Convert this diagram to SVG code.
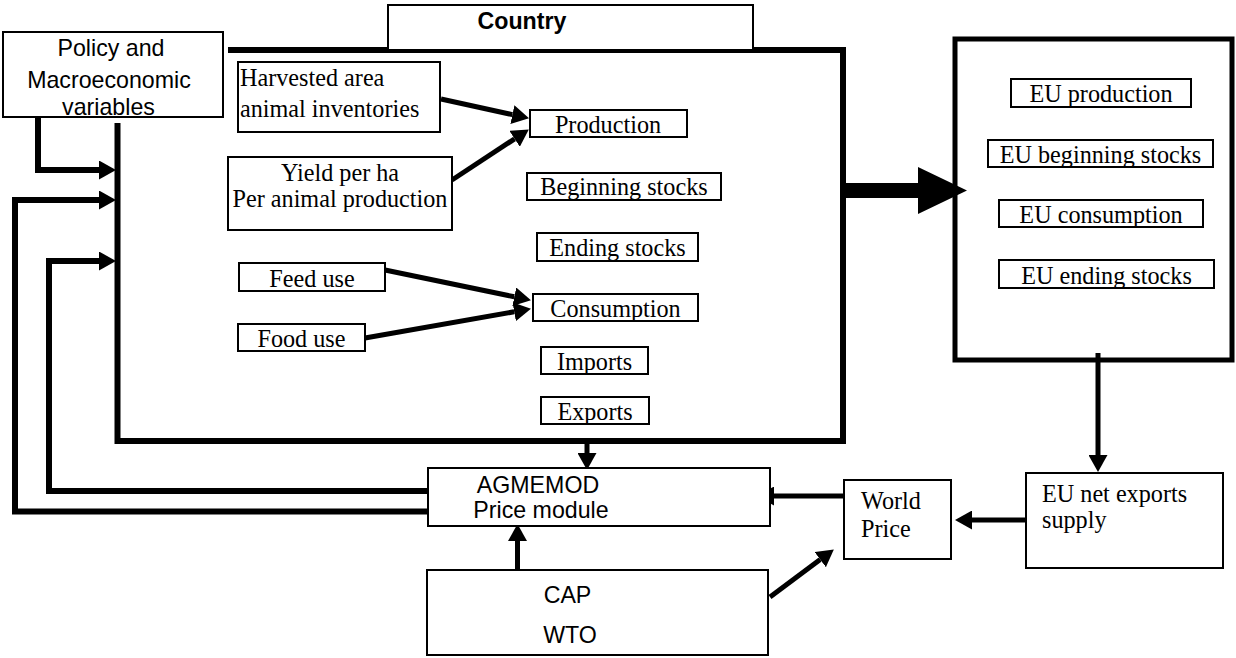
<svg xmlns="http://www.w3.org/2000/svg" width="1236" height="658" viewBox="0 0 1236 658">
  <style>
    .box { fill: #ffffff; stroke: #000000; stroke-width: 2; }
    .serif { font-family: "Liberation Serif", "Times New Roman", serif; font-size: 24.2px; fill: #000000; }
    .sans { font-family: "Liberation Sans", Arial, sans-serif; font-size: 23.2px; fill: #000000; }
    .mid { text-anchor: middle; }
    .heavy { fill: none; stroke: #000000; stroke-width: 6; stroke-linejoin: miter; }
    .link { fill: none; stroke: #000000; stroke-width: 5; }
    .edge { fill: none; stroke: #000000; stroke-width: 2; }
  </style>
  <defs>
    <marker id="head" markerUnits="userSpaceOnUse" markerWidth="17" markerHeight="19" viewBox="0 0 17 19" refX="0" refY="9.5" orient="auto">
      <path d="M0,0 L17,9.5 L0,19 Z" fill="#000000"/>
    </marker>
    <clipPath id="clip-beg"><rect x="527" y="173" width="194" height="27"/></clipPath>
    <clipPath id="clip-eu-beg"><rect x="988" y="140" width="225" height="27"/></clipPath>
    <clipPath id="clip-eu-end"><rect x="999" y="260" width="215" height="28"/></clipPath>
  </defs>

  <rect width="1236" height="658" fill="#ffffff"/>

  <!-- country frame and loops -->
  <g id="connectors">
    <path class="heavy" d="M228,50 H843 V441 H117.5 V123"/>
    <path class="heavy" d="M38,117 V170 H99" marker-end="url(#head)"/>
    <path class="heavy" d="M428,511.5 H15 V200 H99" marker-end="url(#head)"/>
    <path class="heavy" d="M428,491 H49 V261 H99" marker-end="url(#head)"/>
    <!-- inputs inside the country frame -->
    <path class="link" d="M441,99 L512.4,114.6" marker-end="url(#head)"/>
    <path class="link" d="M452,180 L514.6,138.8" marker-end="url(#head)"/>
    <path class="link" d="M385,270 L514.3,296.8" marker-end="url(#head)"/>
    <path class="link" d="M365,338 L514.2,311.8" marker-end="url(#head)"/>
    <!-- country to EU -->
    <path d="M843,183 H918 V167 L967,190.5 L918,214 V198 H843 Z" fill="#000000"/>
    <!-- price links -->
    <path class="link" d="M587,441 V453" marker-end="url(#head)"/>
    <path class="link" d="M517.5,570 V541" marker-end="url(#head)"/>
    <path class="link" d="M770,597 L820.2,559.6" marker-end="url(#head)"/>
    <path class="link" d="M844,496 H774" marker-end="url(#head)"/>
    <path class="link" d="M1026,520 H972" marker-end="url(#head)"/>
    <path class="link" d="M1098,353 V455" marker-end="url(#head)"/>
  </g>

  <g id="policy">
    <rect class="box" x="3" y="32" width="220" height="85" stroke-width="2.5"/>
    <text class="sans mid" x="111" y="56">Policy and</text>
    <text class="sans mid" x="109" y="88">Macroeconomic</text>
    <text class="sans mid" x="108.5" y="114.5">variables</text>
  </g>

  <g id="country">
    <rect class="box" x="388" y="5" width="365" height="45"/>
    <text class="sans mid" x="522" y="29" font-weight="bold">Country</text>
  </g>

  <g id="harvested">
    <rect class="box" x="238" y="62" width="202" height="70"/>
    <text class="serif" x="240" y="86">Harvested area</text>
    <text class="serif" x="240" y="117">animal inventories</text>
  </g>

  <g id="yield">
    <rect class="box" x="228" y="157" width="224" height="73"/>
    <text class="serif mid" x="340" y="181">Yield per ha</text>
    <text class="serif mid" x="340" y="207">Per animal production</text>
  </g>

  <g id="production">
    <rect class="box" x="530" y="110" width="157" height="27"/>
    <text class="serif mid" x="608" y="133">Production</text>
  </g>

  <g id="beginning-stocks">
    <rect class="box" x="527" y="173" width="194" height="27"/>
    <text class="serif mid" x="624" y="195" clip-path="url(#clip-beg)">Beginning stocks</text>
    <rect class="edge" x="527" y="173" width="194" height="27"/>
  </g>

  <g id="ending-stocks">
    <rect class="box" x="537" y="233" width="161" height="28"/>
    <text class="serif mid" x="617.5" y="256">Ending stocks</text>
  </g>

  <g id="consumption">
    <rect class="box" x="533" y="294" width="165" height="27"/>
    <text class="serif mid" x="615.5" y="317">Consumption</text>
  </g>

  <g id="imports">
    <rect class="box" x="541" y="347" width="107" height="27"/>
    <text class="serif mid" x="594.5" y="370">Imports</text>
  </g>

  <g id="exports">
    <rect class="box" x="541" y="397" width="108" height="27"/>
    <text class="serif mid" x="595" y="420">Exports</text>
  </g>

  <g id="feed-use">
    <rect class="box" x="239" y="263" width="146" height="28"/>
    <text class="serif mid" x="312" y="287">Feed use</text>
  </g>

  <g id="food-use">
    <rect class="box" x="238" y="324" width="127" height="27"/>
    <text class="serif mid" x="301.5" y="347">Food use</text>
  </g>

  <g id="eu">
    <rect x="955" y="39" width="277" height="321" fill="none" stroke="#000000" stroke-width="5"/>
  </g>

  <g id="eu-production">
    <rect class="box" x="1011" y="79" width="180" height="28"/>
    <text class="serif mid" x="1101" y="102">EU production</text>
  </g>

  <g id="eu-beginning-stocks">
    <rect class="box" x="988" y="140" width="225" height="27"/>
    <text class="serif mid" x="1100.5" y="163" clip-path="url(#clip-eu-beg)">EU beginning stocks</text>
    <rect class="edge" x="988" y="140" width="225" height="27"/>
  </g>

  <g id="eu-consumption">
    <rect class="box" x="999" y="200" width="204" height="27"/>
    <text class="serif mid" x="1101" y="223">EU consumption</text>
  </g>

  <g id="eu-ending-stocks">
    <rect class="box" x="999" y="260" width="215" height="28"/>
    <text class="serif mid" x="1106.5" y="284" clip-path="url(#clip-eu-end)">EU ending stocks</text>
    <rect class="edge" x="999" y="260" width="215" height="28"/>
  </g>

  <g id="agmemod">
    <rect class="box" x="428" y="468" width="342" height="58"/>
    <text class="sans mid" x="538" y="493">AGMEMOD</text>
    <text class="sans mid" x="541" y="518">Price module</text>
  </g>

  <g id="cap-wto">
    <rect class="box" x="427" y="570" width="341" height="85"/>
    <text class="sans mid" x="567.5" y="603">CAP</text>
    <text class="sans mid" x="570" y="643">WTO</text>
  </g>

  <g id="world-price">
    <rect class="box" x="844" y="480" width="107" height="79"/>
    <text class="serif" x="861" y="509">World</text>
    <text class="serif" x="861" y="537">Price</text>
  </g>

  <g id="eu-net-exports">
    <rect class="box" x="1026" y="473" width="197" height="95"/>
    <text class="serif" x="1042" y="502">EU net exports</text>
    <text class="serif" x="1042" y="528">supply</text>
  </g>
</svg>
